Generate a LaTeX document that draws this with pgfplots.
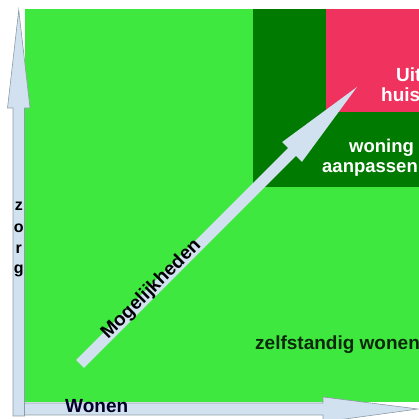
\documentclass[border=0pt]{standalone}
\usepackage{pgfplots}
\pgfplotsset{compat=1.18}
\usepackage{fontspec}
\setmainfont{Liberation Sans}
\definecolor{brightgreen}{RGB}{62,232,62}
\definecolor{darkgreen}{RGB}{0,122,0}
\definecolor{pinkred}{RGB}{240,50,94}
\definecolor{lightblue}{RGB}{210,225,240}
\definecolor{arrowedge}{RGB}{140,155,165}
\definecolor{textdark}{RGB}{12,40,12}
\begin{document}
\begin{tikzpicture}
\useasboundingbox (0,0) rectangle (419pt,419pt);
\begin{axis}[
  at={(0,0)}, anchor=south west,
  width=419pt, height=419pt, scale only axis,
  xmin=0, xmax=419, ymin=0, ymax=419,
  hide axis, clip=true,
]
% regions
\addplot[fill=brightgreen, draw=none] coordinates {(25,17) (425,17) (425,410) (25,410)} -- cycle;
\addplot[fill=darkgreen, draw=none] coordinates {(253,232) (425,232) (425,410) (253,410)} -- cycle;
\addplot[fill=pinkred, draw=none] coordinates {(326,307) (425,307) (425,410) (326,410)} -- cycle;
% vertical arrow (zorg)
\addplot[fill=lightblue, draw=arrowedge, line width=0.6pt] coordinates {(13,3) (13,311) (7.5,311) (18.75,409) (30,311) (24.5,311) (24.5,3)} -- cycle;
% horizontal arrow (wonen)
\addplot[fill=lightblue, draw=arrowedge, line width=0.6pt] coordinates {(24.5,4) (323,4) (323,-3) (418,10) (323,22) (323,16) (24.5,16)} -- cycle;
% diagonal arrow (mogelijkheden)
\addplot[fill=lightblue, draw=none] coordinates {(76.1,58.9) (288.1,270.9) (282.1,276.9) (357,332) (301.9,257.1) (295.9,263.1) (83.9,51.1)} -- cycle;
% texts
\node[anchor=base west, font=\fontsize{19}{20}\selectfont\bfseries, text=textdark, inner sep=0pt] at (axis cs:255,69) {zelfstandig wonen};
\node[anchor=base west, font=\fontsize{19}{20}\selectfont\bfseries, text=black!85!blue, inner sep=0pt] at (axis cs:65,6) {Wonen};
\node[anchor=base west, font=\fontsize{18.5}{20}\selectfont\bfseries, text=white, inner sep=0pt] at (axis cs:349,266) {woning};
\node[anchor=base west, font=\fontsize{18.5}{20}\selectfont\bfseries, text=white, inner sep=0pt] at (axis cs:322,246) {aanpassen};
\node[anchor=base west, font=\fontsize{19}{20}\selectfont\bfseries, text=white, inner sep=0pt] at (axis cs:396,337) {Uit};
\node[anchor=base west, font=\fontsize{19}{20}\selectfont\bfseries, text=white, inner sep=0pt] at (axis cs:381,317) {huis};
\node[anchor=mid, rotate=45, font=\fontsize{19}{20}\selectfont\bfseries, text=black, inner sep=0pt] at (axis cs:153,128) {Mogelijkheden};
\node[anchor=mid, font=\fontsize{16}{17}\selectfont\bfseries, text=black, inner sep=0pt] at (axis cs:18.75,211) {z};
\node[anchor=mid, font=\fontsize{16}{17}\selectfont\bfseries, text=black, inner sep=0pt] at (axis cs:18.75,189) {o};
\node[anchor=mid, font=\fontsize{16}{17}\selectfont\bfseries, text=black, inner sep=0pt] at (axis cs:18.75,168) {r};
\node[anchor=mid, font=\fontsize{16}{17}\selectfont\bfseries, text=black, inner sep=0pt] at (axis cs:18.75,148) {g};
\end{axis}
\end{tikzpicture}
\end{document}
